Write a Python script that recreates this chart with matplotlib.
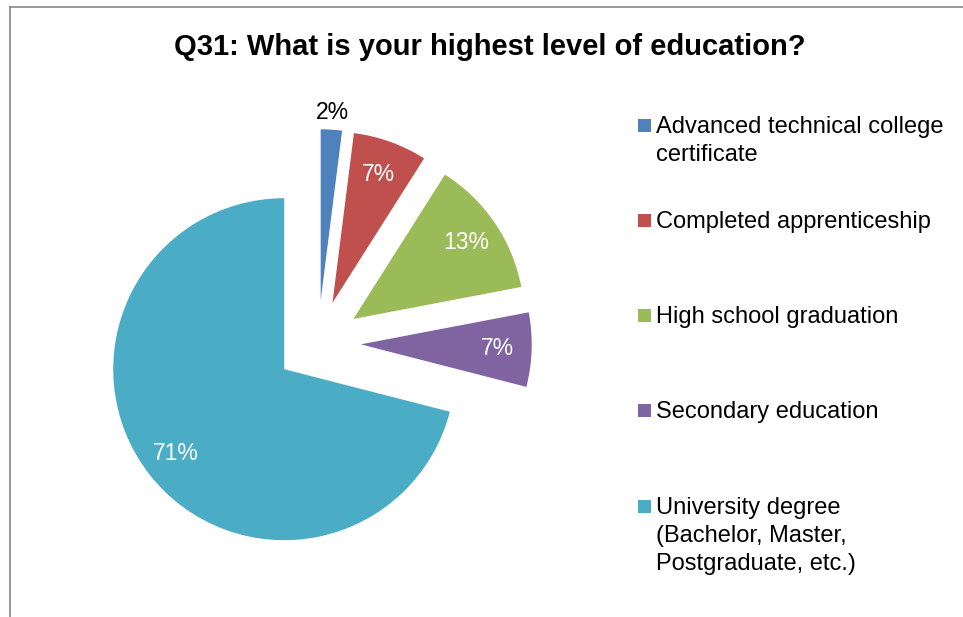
import numpy as np
import matplotlib
matplotlib.use("Agg")
import matplotlib.pyplot as plt
from matplotlib.patches import Rectangle
from matplotlib.lines import Line2D

plt.rcParams['font.family'] = ['Liberation Sans', 'DejaVu Sans']

# data (percent of respondents)
categories = ['Advanced technical college\ncertificate',
              'Completed apprenticeship',
              'High school graduation',
              'Secondary education',
              'University degree\n(Bachelor, Master,\nPostgraduate, etc.)']
shares = [2, 7, 13, 7, 71]
colors = ['#4F81BD', '#C0504D', '#9BBB59', '#8064A2', '#4BACC6']

W, H = 963, 617
fig = plt.figure(figsize=(W / 100, H / 100), dpi=100)

# pie centre and radius in pixels
cx, cy, r = 318, 343, 171
ax = fig.add_axes([0, 0, 1, 1])
wedges, texts, autotexts = ax.pie(shares, colors=colors, startangle=90, counterclock=False,
                                  explode=[0.25] * len(shares), radius=1,
                                  autopct='%1.0f%%', pctdistance=0.8,
                                  wedgeprops=dict(linewidth=0),
                                  textprops=dict(color='white', fontsize=16.5))
ax.set_aspect('auto')
ax.set_xlim(-cx / r, (W - cx) / r)
ax.set_ylim(-(H - cy) / r, cy / r)
ax.axis('off')

# small slice label sits outside, in black
w0 = wedges[0]
tm = np.deg2rad((w0.theta1 + w0.theta2) / 2)
autotexts[0].set_position((w0.center[0] + 1.1 * np.cos(tm), w0.center[1] + 1.1 * np.sin(tm)))
autotexts[0].set_color('black')

fig.text(490 / W, 1 - 47 / H, 'Q31: What is your highest level of education?',
         fontsize=21, fontweight='bold', ha='center', va='center')

# legend drawn by hand so the marker lines up with the first text line
baselines = [133, 228, 323, 418, 514]
for lab, col, b in zip(categories, colors, baselines):
    fig.patches.append(Rectangle((638 / W, 1 - 132 / H - (b - 133) / H), 13 / W, 13 / H,
                                 transform=fig.transFigure, facecolor=col, edgecolor='none'))
    fig.text(656 / W, 1 - b / H, lab.split('\n')[0], fontsize=17, ha='left', va='baseline')
    for i, extra in enumerate(lab.split('\n')[1:]):
        fig.text(656 / W, 1 - (b + 28 * (i + 1)) / H, extra, fontsize=17, ha='left', va='baseline')

# chart border (only the top and left edges fall inside the picture)
fig.lines.append(Line2D([10 / W, 1], [1 - 7 / H, 1 - 7 / H], transform=fig.transFigure,
                        color='#888888', linewidth=1.2))
fig.lines.append(Line2D([10 / W, 10 / W], [0, 1 - 7 / H], transform=fig.transFigure,
                        color='#888888', linewidth=1.2))

fig.savefig('out.png', dpi=100)
